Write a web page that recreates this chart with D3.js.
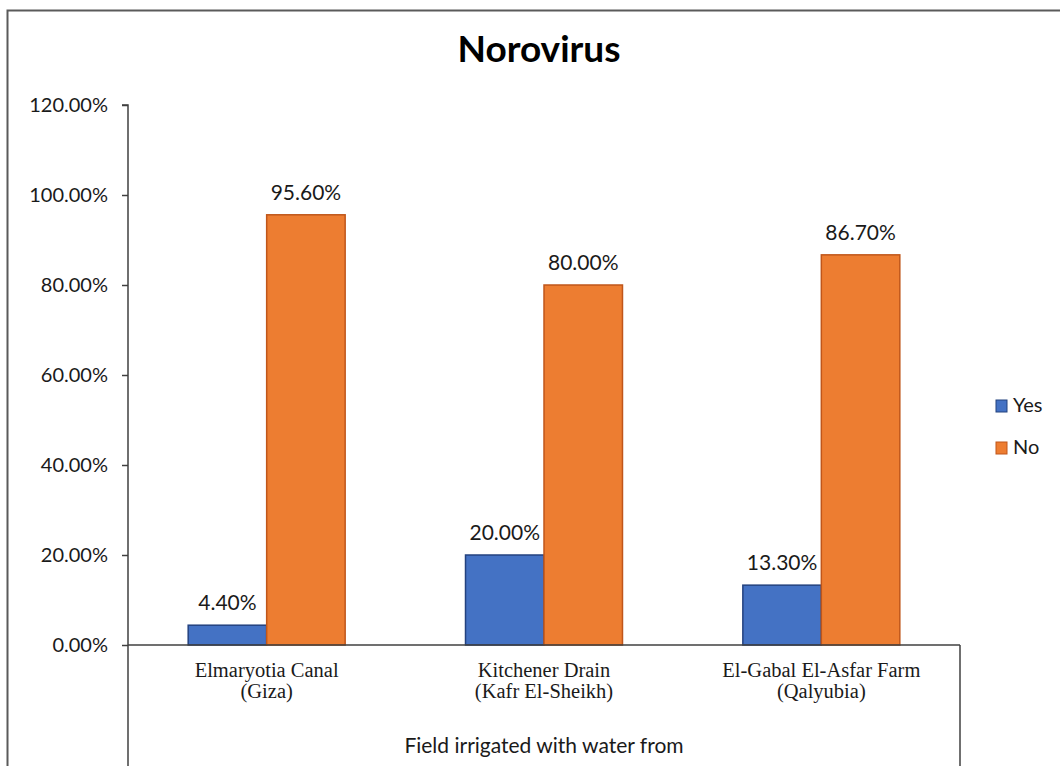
<!DOCTYPE html>
<html>
<head>
<meta charset="utf-8">
<script src="https://cdn.jsdelivr.net/npm/d3@7/dist/d3.min.js"></script>
<style>
  html, body { margin: 0; padding: 0; background: #fff; }
  svg { display: block; }
</style>
</head>
<body>
<svg id="chart" width="1060" height="766"></svg>
<script>
// Norovirus detection by irrigation water source
const categories = [
  ["Elmaryotia Canal", "(Giza)"],
  ["Kitchener Drain", "(Kafr El-Sheikh)"],
  ["El-Gabal El-Asfar Farm", "(Qalyubia)"]
];
const seriesNames = ["Yes", "No"];
const yesValues = [4.4, 20.0, 13.3];
const noValues = [95.6, 80.0, 86.7];
const yTicks = [0, 20, 40, 60, 80, 100, 120];

const colors = { Yes: "#4472C4", No: "#ED7D31" };
const strokes = { Yes: "#23427F", No: "#C0561A" };

const svg = d3.select("#chart");
const sansFont = "Lato, 'Open Sans', sans-serif";
const serifFont = "'Liberation Serif', 'DejaVu Serif', serif";

// Chart frame
svg.append("rect")
  .attr("x", 7.5).attr("y", 10.5)
  .attr("width", 1100).attr("height", 800)
  .attr("fill", "none").attr("stroke", "#5a5a5a").attr("stroke-width", 2);

const plot = { left: 128, right: 960, top: 105, bottom: 645 };

const y = d3.scaleLinear().domain([0, 120]).range([plot.bottom, plot.top]);
const x0 = d3.scaleBand()
  .domain(d3.range(categories.length))
  .range([plot.left, plot.right])
  .paddingInner(0.434)
  .paddingOuter(0.217);
const x1 = d3.scaleBand().domain(seriesNames).range([0, x0.bandwidth()]).padding(0);

// Title
svg.append("text")
  .attr("x", 539).attr("y", 62)
  .attr("text-anchor", "middle")
  .attr("font-family", sansFont).attr("font-weight", "bold")
  .attr("font-size", 37).attr("fill", "#000")
  .text("Norovirus");

// Y axis
const yAxis = d3.axisLeft(y)
  .tickValues(yTicks)
  .tickSize(6)
  .tickPadding(14)
  .tickFormat(d => d.toFixed(2) + "%");
const gy = svg.append("g")
  .attr("transform", `translate(${plot.left},0)`)
  .call(yAxis);
gy.select(".domain").attr("stroke", "#404040").attr("stroke-width", 1.5)
  .attr("d", `M-6,${plot.top}H0V${plot.bottom}`);
gy.selectAll(".tick line").attr("stroke", "#404040").attr("stroke-width", 1.5);
gy.selectAll(".tick text")
  .attr("font-family", sansFont).attr("font-size", 20).attr("fill", "#1a1a1a");

// Bars
const rows = categories.map((c, i) => ({ i, values: [
  { key: "Yes", value: yesValues[i] },
  { key: "No", value: noValues[i] }
]}));

const groups = svg.append("g").selectAll("g")
  .data(rows).join("g")
  .attr("transform", d => `translate(${x0(d.i)},0)`);

groups.selectAll("rect")
  .data(d => d.values).join("rect")
  .attr("x", d => x1(d.key))
  .attr("y", d => y(d.value))
  .attr("width", x1.bandwidth())
  .attr("height", d => y(0) - y(d.value))
  .attr("fill", d => colors[d.key])
  .attr("stroke", d => strokes[d.key])
  .attr("stroke-width", 1.5);

groups.selectAll("text.val")
  .data(d => d.values).join("text")
  .attr("class", "val")
  .attr("x", d => x1(d.key) + x1.bandwidth() / 2)
  .attr("y", d => y(d.value) - 15)
  .attr("text-anchor", "middle")
  .attr("font-family", sansFont).attr("font-size", 21).attr("fill", "#1a1a1a")
  .text(d => d.value.toFixed(2) + "%");

// X axis baseline and category box lines
const axisG = svg.append("g").attr("stroke", "#404040").attr("stroke-width", 1.5);
axisG.append("line")
  .attr("x1", plot.left).attr("x2", plot.right)
  .attr("y1", y(0)).attr("y2", y(0));
axisG.append("line")
  .attr("x1", plot.left).attr("x2", plot.left)
  .attr("y1", y(0)).attr("y2", 770);
axisG.append("line")
  .attr("x1", plot.right).attr("x2", plot.right)
  .attr("y1", y(0)).attr("y2", 770);

// Category labels
const catG = svg.append("g");
categories.forEach((lines, i) => {
  const cx = x0(i) + x0.bandwidth() / 2;
  const t = catG.append("text")
    .attr("text-anchor", "middle")
    .attr("font-family", serifFont).attr("font-size", 20.5).attr("fill", "#1a1a1a");
  lines.forEach((ln, k) => {
    t.append("tspan").attr("x", cx).attr("y", 677 + k * 21).text(ln);
  });
});

// Axis title
svg.append("text")
  .attr("x", (plot.left + plot.right) / 2).attr("y", 753)
  .attr("text-anchor", "middle")
  .attr("font-family", sansFont).attr("font-size", 21).attr("fill", "#1a1a1a")
  .text("Field irrigated with water from");

// Legend
const legend = svg.append("g");
seriesNames.forEach((name, k) => {
  const ly = 400 + k * 42;
  legend.append("rect")
    .attr("x", 996).attr("y", ly)
    .attr("width", 11).attr("height", 12)
    .attr("fill", colors[name]).attr("stroke", strokes[name]).attr("stroke-width", 1);
  legend.append("text")
    .attr("x", 1013).attr("y", ly + 12)
    .attr("font-family", sansFont).attr("font-size", 20).attr("fill", "#1a1a1a")
    .text(name);
});
</script>
</body>
</html>
